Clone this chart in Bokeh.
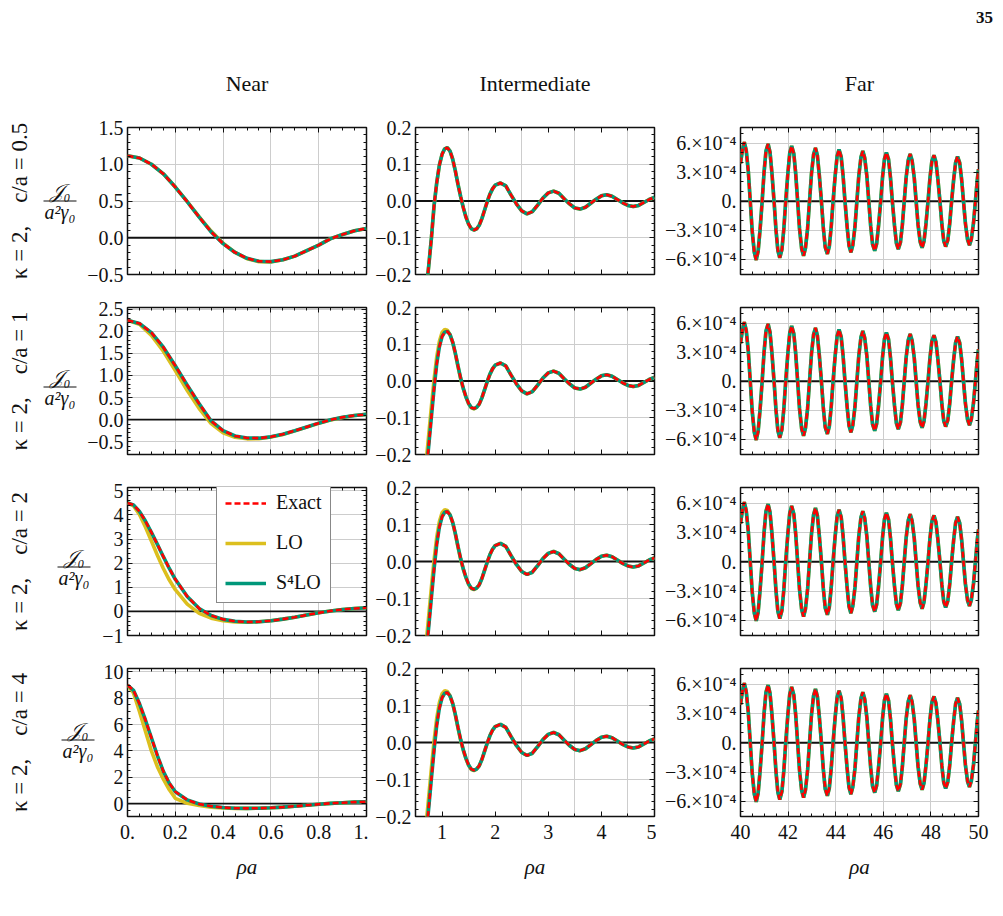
import numpy as np
from bokeh.plotting import figure
from bokeh.models import (Range1d, LinearAxis, FixedTicker, Grid, Span, Legend,
                          LegendItem, CustomJSTickFormatter)
from bokeh.layouts import column, row
from bokeh.embed import file_html
from bokeh.resources import INLINE
from bokeh.core.properties import value

# ---------------------------------------------------------------- data
# Near zone: rho*a in [0, 1]
near_x = [0.0, 0.05, 0.1, 0.15, 0.2, 0.25, 0.3, 0.35, 0.4, 0.45, 0.5,
          0.55, 0.6, 0.65, 0.7, 0.75, 0.8, 0.85, 0.9, 0.95, 1.0]
near_x_fine = [0.0, 0.025, 0.05, 0.075, 0.1, 0.125, 0.15, 0.175, 0.2, 0.25, 0.3,
               0.35, 0.4, 0.45, 0.5, 0.55, 0.6, 0.65, 0.7, 0.75, 0.8, 0.85, 0.9, 0.95, 1.0]

near_exact_c05 = [1.115, 1.085, 1.00, 0.87, 0.69, 0.49, 0.28, 0.08, -0.08, -0.20, -0.28,
                  -0.32, -0.325, -0.30, -0.25, -0.175, -0.10, -0.012, 0.045, 0.095, 0.126]
near_lo_c05 = [1.115, 1.085, 1.00, 0.87, 0.69, 0.49, 0.285, 0.09, -0.075, -0.20, -0.285,
               -0.325, -0.33, -0.30, -0.25, -0.175, -0.10, -0.012, 0.045, 0.095, 0.126]

near_exact_c1 = [2.25, 2.18, 1.97, 1.64, 1.22, 0.78, 0.36, -0.03, -0.25, -0.37, -0.415,
                 -0.42, -0.39, -0.33, -0.25, -0.165, -0.08, -0.005, 0.055, 0.095, 0.118]
near_lo_c1 = [2.25, 2.16, 1.91, 1.55, 1.11, 0.66, 0.25, -0.09, -0.30, -0.40, -0.435,
              -0.43, -0.395, -0.335, -0.255, -0.17, -0.085, -0.01, 0.05, 0.093, 0.118]

near_exact_c2 = [4.5, 4.42, 4.15, 3.75, 3.28, 2.78, 2.27, 1.78, 1.33, 0.62, 0.12,
                 -0.17, -0.33, -0.41, -0.44, -0.43, -0.39, -0.32, -0.24, -0.15, -0.06,
                 0.02, 0.08, 0.12, 0.15]
near_lo_c2 = [4.5, 4.38, 4.02, 3.5, 2.92, 2.33, 1.78, 1.3, 0.9, 0.3, -0.08,
              -0.28, -0.39, -0.44, -0.45, -0.43, -0.39, -0.32, -0.24, -0.15, -0.06,
              0.02, 0.08, 0.12, 0.15]

near_exact_c4 = [9.0, 8.6, 7.6, 6.35, 5.0, 3.65, 2.45, 1.55, 0.9, 0.28, -0.03,
                 -0.2, -0.3, -0.35, -0.36, -0.35, -0.32, -0.27, -0.2, -0.13, -0.05,
                 0.02, 0.07, 0.11, 0.14]
near_lo_c4 = [9.0, 8.4, 7.0, 5.5, 4.0, 2.8, 1.85, 1.05, 0.4, 0.02, -0.15,
              -0.27, -0.33, -0.36, -0.36, -0.35, -0.32, -0.27, -0.2, -0.13, -0.05,
              0.02, 0.07, 0.11, 0.14]

# Intermediate zone: rho*a in [0.5, 5]
inter_x = [0.70, 0.75, 0.80, 0.85, 0.90, 0.95, 1.00, 1.05, 1.10, 1.15, 1.20, 1.25,
           1.30, 1.35, 1.40, 1.45, 1.50, 1.55, 1.60, 1.65, 1.70, 1.75, 1.80, 1.85,
           1.90, 1.95, 2.00,
           2.1, 2.2, 2.3, 2.4, 2.5, 2.6, 2.7, 2.8, 2.9, 3.0, 3.1, 3.2, 3.3, 3.4,
           3.5, 3.6, 3.7, 3.8, 3.9, 4.0, 4.1, 4.2, 4.3, 4.4, 4.5, 4.6, 4.7, 4.8,
           4.9, 5.0]
inter_tail = [0.049, 0.041, 0.016, -0.008, -0.027, -0.035, -0.029, -0.011, 0.008,
              0.022, 0.027, 0.021, 0.006, -0.008, -0.019, -0.022, -0.017, -0.006,
              0.005, 0.014, 0.017, 0.013, 0.004, -0.005, -0.012, -0.015, -0.012,
              -0.004, 0.004, 0.010]
inter_exact_c05 = [-0.245, -0.175, -0.100, -0.012, 0.050, 0.098, 0.127, 0.142, 0.145,
                   0.136, 0.114, 0.082, 0.045, 0.012, -0.018, -0.044, -0.063, -0.075,
                   -0.079, -0.076, -0.066, -0.048, -0.025, -0.002, 0.018, 0.033,
                   0.043] + inter_tail
inter_exact = [-0.25, -0.175, -0.097, -0.020, 0.047, 0.093, 0.121, 0.133, 0.135,
               0.126, 0.106, 0.076, 0.041, 0.008, -0.020, -0.043, -0.061, -0.072,
               -0.075, -0.072, -0.063, -0.046, -0.024, -0.002, 0.018, 0.033,
               0.043] + inter_tail
inter_lo = [-0.22, -0.145, -0.068, 0.005, 0.066, 0.108, 0.132, 0.140, 0.138,
            0.126, 0.105, 0.074, 0.039, 0.006, -0.021, -0.044, -0.062, -0.073,
            -0.076, -0.072, -0.063, -0.046, -0.024, -0.002, 0.018, 0.033,
            0.043] + inter_tail

# Far zone: rho*a in [40, 50], values in units of 1e-4
far_x = [40.0, 40.08,
         40.16, 40.24, 40.33, 40.41, 40.49, 40.58,
         40.66, 40.74, 40.82, 40.91, 40.99, 41.07,
         41.16, 41.24, 41.32, 41.41, 41.49, 41.57,
         41.65, 41.74, 41.82, 41.90, 41.99, 42.07,
         42.15, 42.24, 42.32, 42.40, 42.48, 42.57,
         42.65, 42.73, 42.82, 42.90, 42.98, 43.07,
         43.15, 43.23, 43.31, 43.40, 43.48, 43.56,
         43.65, 43.73, 43.81, 43.89, 43.98, 44.06,
         44.14, 44.23, 44.31, 44.39, 44.48, 44.56,
         44.64, 44.72, 44.81, 44.89, 44.97, 45.06,
         45.14, 45.22, 45.31, 45.39, 45.47, 45.55,
         45.64, 45.72, 45.80, 45.89, 45.97, 46.05,
         46.13, 46.22, 46.30, 46.38, 46.47, 46.55,
         46.63, 46.72, 46.80, 46.88, 46.96, 47.05,
         47.13, 47.21, 47.30, 47.38, 47.46, 47.55,
         47.63, 47.71, 47.79, 47.88, 47.96, 48.04,
         48.13, 48.21, 48.29, 48.38, 48.46, 48.54,
         48.62, 48.71, 48.79, 48.87, 48.96, 49.04,
         49.12, 49.21, 49.29, 49.37, 49.45, 49.54,
         49.62, 49.70, 49.79, 49.87, 49.95, 50.0]
far_e4 = [3.9, 5.28,
          6.10, 5.26, 3.04, 0.0, -3.04, -5.26,
          -6.05, -5.17, -2.99, 0.0, 2.99, 5.17,
          5.90, 5.07, 2.93, 0.0, -2.93, -5.07,
          -5.82, -4.99, -2.88, 0.0, 2.88, 4.99,
          5.70, 4.90, 2.83, 0.0, -2.83, -4.90,
          -5.62, -4.82, -2.78, 0.0, 2.78, 4.82,
          5.50, 4.73, 2.73, 0.0, -2.73, -4.73,
          -5.43, -4.66, -2.69, 0.0, 2.69, 4.66,
          5.32, 4.58, 2.64, 0.0, -2.64, -4.58,
          -5.26, -4.52, -2.61, 0.0, 2.61, 4.52,
          5.17, 4.45, 2.57, 0.0, -2.57, -4.45,
          -5.10, -4.38, -2.53, 0.0, 2.53, 4.38,
          5.02, 4.32, 2.49, 0.0, -2.49, -4.32,
          -4.95, -4.25, -2.46, 0.0, 2.46, 4.25,
          4.87, 4.19, 2.42, 0.0, -2.42, -4.19,
          -4.80, -4.13, -2.39, 0.0, 2.39, 4.13,
          4.74, 4.08, 2.35, 0.0, -2.35, -4.08,
          -4.67, -4.02, -2.32, 0.0, 2.32, 4.02,
          4.60, 3.95, 2.28, 0.0, -2.28, -3.95,
          -4.52, -3.90, -2.25, 0.0, 2.25, 3.30]
far_y = [v * 1e-4 for v in far_e4]

c_over_a = ["0.5", "1", "2", "4"]
column_titles = ["Near", "Intermediate", "Far"]
legend_labels = ["Exact", "LO", "S\u2074LO"]

# tick labels
near_xlabels = {0.0: "0.", 0.2: "0.2", 0.4: "0.4", 0.6: "0.6", 0.8: "0.8", 1.0: "1."}
inter_xlabels = {1: "1", 2: "2", 3: "3", 4: "4", 5: "5"}
far_xlabels = {40: "40", 42: "42", 44: "44", 46: "46", 48: "48", 50: "50"}
near_ylabels = [
    {-0.5: "\u22120.5", 0.0: "0.0", 0.5: "0.5", 1.0: "1.0", 1.5: "1.5"},
    {-0.5: "\u22120.5", 0.0: "0.0", 0.5: "0.5", 1.0: "1.0", 1.5: "1.5", 2.0: "2.0", 2.5: "2.5"},
    {-1: "\u22121", 0: "0", 1: "1", 2: "2", 3: "3", 4: "4", 5: "5"},
    {0: "0", 2: "2", 4: "4", 6: "6", 8: "8", 10: "10"},
]
inter_ylabels = {-0.2: "\u22120.2", -0.1: "\u22120.1", 0.0: "0.0", 0.1: "0.1", 0.2: "0.2"}
far_ylabels = {-6e-4: "\u22126.\u00d710\u207b\u2074", -3e-4: "\u22123.\u00d710\u207b\u2074",
               0.0: "0.", 3e-4: "3.\u00d710\u207b\u2074", 6e-4: "6.\u00d710\u207b\u2074"}

# ---------------------------------------------------------------- style
SERIF = "Liberation Serif"
INK = "#111111"
GRID = "#cdcdcd"
RED = "#ff0000"
GOLD = "#dcbf1e"
TEAL = "#00977a"


def steps(a, b, d):
    n = int(round((b - a) / d))
    return [round(a + i * d, 10) for i in range(n + 1)]


def style_axis(ax, labels, standoff):
    ax.axis_line_color = None
    ax.major_tick_in = 5
    ax.major_tick_out = 0
    ax.minor_tick_in = 3
    ax.minor_tick_out = 0
    ax.major_tick_line_color = INK
    ax.minor_tick_line_color = INK
    ax.major_tick_line_width = 1
    ax.minor_tick_line_width = 1
    if labels is None:
        ax.formatter = CustomJSTickFormatter(code="return ''")
        ax.major_label_text_font_size = "0px"
        ax.major_label_standoff = 0
    else:
        ax.major_label_overrides = labels
        ax.major_label_text_font = SERIF
        ax.major_label_text_font_size = "20px"
        ax.major_label_text_color = INK
        ax.major_label_standoff = standoff


def panel(spec, fw, fh, ml, mr, mt, mb, show_x):
    p = figure(frame_width=fw, frame_height=fh,
               x_range=Range1d(*spec["xr"]), y_range=Range1d(*spec["yr"]),
               min_border_left=ml, min_border_right=mr,
               min_border_top=mt, min_border_bottom=mb,
               x_axis_type=None, y_axis_type=None,
               toolbar_location=None, output_backend="svg")
    p.background_fill_color = "white"
    p.border_fill_color = "white"
    p.outline_line_color = INK
    p.outline_line_width = 1.5
    p.add_layout(Grid(dimension=0, ticker=FixedTicker(ticks=spec["xgrid"]),
                      grid_line_color=GRID, grid_line_width=1))
    p.add_layout(Grid(dimension=1, ticker=FixedTicker(ticks=spec["ygrid"]),
                      grid_line_color=GRID, grid_line_width=1))
    p.add_layout(Span(location=0, dimension="width", line_color=INK,
                      line_width=1.8, level="underlay"))
    axes = (("below", spec["xmaj"], spec["xmin"], spec["xlab"] if show_x else None, 8),
            ("above", spec["xmaj"], spec["xmin"], None, 0),
            ("left", spec["ymaj"], spec["ymin"], spec["ylab"], 4),
            ("right", spec["ymaj"], spec["ymin"], None, 0))
    bottom = None
    for place, maj, mnr, labels, so in axes:
        ax = LinearAxis(ticker=FixedTicker(ticks=maj, minor_ticks=mnr))
        style_axis(ax, labels, so)
        p.add_layout(ax, place)
        if place == "below":
            bottom = ax
    if show_x:
        bottom.axis_label = "\u03c1a"
        bottom.axis_label_text_font = SERIF
        bottom.axis_label_text_font_style = "italic"
        bottom.axis_label_text_font_size = "21px"
        bottom.axis_label_text_color = INK
        bottom.axis_label_standoff = 13
    x, lo, s4, ex = spec["series"]
    r_lo = p.line(x, lo, line_color=GOLD, line_width=3.6)
    r_s4 = p.line(x, s4, line_color=TEAL, line_width=3.6)
    r_ex = p.line(x, ex, line_color=RED, line_width=2.6, line_dash="6 3")
    return p, (r_ex, r_lo, r_s4)


def text_canvas(width, height, x0, y0):
    """A bare figure whose data space is the page's pixel grid."""
    f = figure(width=width, height=height, x_range=Range1d(x0, x0 + width),
               y_range=Range1d(y0 + height, y0), min_border=0,
               x_axis_type=None, y_axis_type=None,
               toolbar_location=None, output_backend="svg")
    f.frame_align = False
    f.outline_line_color = None
    f.background_fill_color = "white"
    f.border_fill_color = "white"
    return f


def row_label(width, top, height, ca, frame_mid, fx, num_y, bar_y, den_y):
    f = text_canvas(width, height, 0, top)
    f.text(x=[19], y=[frame_mid], text=["\u03ba = 2,\u2003c/a = " + ca],
           angle=np.pi / 2, text_align="center", text_baseline="middle",
           text_font=value(SERIF), text_font_size="23px", text_color=INK)
    f.text(x=[fx], y=[num_y], text=["\U0001d4a5\u2080"], text_align="center",
           text_baseline="middle", text_font=value(SERIF), text_font_size="20px",
           text_font_style="italic", text_color=INK)
    f.segment(x0=[fx - 16.5], y0=[bar_y], x1=[fx + 16.5], y1=[bar_y],
              line_color=INK, line_width=1)
    f.text(x=[fx], y=[den_y], text=["a\u00b2\u03b3\u2080"], text_align="center",
           text_baseline="middle", text_font=value(SERIF), text_font_size="20px",
           text_font_style="italic", text_color=INK)
    return f


# ---------------------------------------------------------------- panels
near_series = [
    (near_x, near_lo_c05, near_exact_c05, near_exact_c05),
    (near_x, near_lo_c1, near_exact_c1, near_exact_c1),
    (near_x_fine, near_lo_c2, near_exact_c2, near_exact_c2),
    (near_x_fine, near_lo_c4, near_exact_c4, near_exact_c4),
]
inter_series = [
    (inter_x, inter_exact_c05, inter_exact_c05, inter_exact_c05),
    (inter_x, inter_lo, inter_exact, inter_exact),
    (inter_x, inter_lo, inter_exact, inter_exact),
    (inter_x, inter_lo, inter_exact, inter_exact),
]
far_series = (far_x, far_y, far_y, far_y)

near_yr = [(-0.5, 1.5), (-0.79, 2.54), (-1.0, 5.14), (-0.98, 10.26)]
near_ymaj = [[-0.5, 0.0, 0.5, 1.0, 1.5],
             [-0.5, 0.0, 0.5, 1.0, 1.5, 2.0, 2.5],
             [-1, 0, 1, 2, 3, 4, 5],
             [0, 2, 4, 6, 8, 10]]
near_ymin = [steps(-0.5, 1.5, 0.1), steps(-0.7, 2.5, 0.1),
             steps(-1, 5, 0.2), steps(-0.5, 10, 0.5)]

# per row: top border, frame height, bottom border, label width, page top
rows_layout = [
    dict(top=27, fh=147, bottom=16, lw=82, y0=100),
    dict(top=17, fh=147, bottom=16, lw=82, y0=290),
    dict(top=17, fh=148, bottom=16, lw=95, y0=470),
    dict(top=17, fh=148, bottom=100, lw=96, y0=651),
]
frac_pos = [(59.5, 190, 200.5, 211.5),
            (59.5, 376, 386.5, 397.5),
            (73.5, 556, 566.5, 577.5),
            (77.5, 729, 739.5, 750.5)]

header = text_canvas(1003, 100, 0, 0)
header.text(x=[246.5, 534.5, 859], y=[83, 83, 83], text=column_titles,
            text_align="center", text_baseline="middle", text_font=value(SERIF),
            text_font_size="22px", text_color=INK)
header.text(x=[984], y=[17], text=["35"], text_align="center", text_baseline="middle",
            text_font=value(SERIF), text_font_size="17px", text_font_style="bold",
            text_color=INK)

layout_rows = [header]
for i in range(4):
    L = rows_layout[i]
    last = i == 3
    h = L["top"] + L["fh"] + L["bottom"]
    fx, ny, by, dy = frac_pos[i]
    lab = row_label(L["lw"], L["y0"], h, c_over_a[i], L["y0"] + L["top"] + L["fh"] / 2,
                    fx, ny, by, dy)

    near_spec = dict(xr=(0, 1), xmaj=[0.0, 0.2, 0.4, 0.6, 0.8, 1.0], xmin=steps(0, 1, 0.05),
                     xgrid=[0.2, 0.4, 0.6, 0.8], xlab=near_xlabels,
                     yr=near_yr[i], ymaj=near_ymaj[i], ymin=near_ymin[i],
                     ygrid=near_ymaj[i], ylab=near_ylabels[i], series=near_series[i])
    inter_spec = dict(xr=(0.5, 5), xmaj=[1, 2, 3, 4, 5], xmin=steps(0.5, 5, 0.5),
                      xgrid=[1.5, 2.5, 3.5, 4.5], xlab=inter_xlabels,
                      yr=(-0.2, 0.2), ymaj=[-0.2, -0.1, 0.0, 0.1, 0.2],
                      ymin=steps(-0.2, 0.2, 0.02), ygrid=[-0.1, 0.1],
                      ylab=inter_ylabels, series=inter_series[i])
    far_spec = dict(xr=(40, 50), xmaj=[40, 42, 44, 46, 48, 50], xmin=steps(40, 50, 0.5),
                    xgrid=[42, 44, 46, 48], xlab=far_xlabels,
                    yr=(-7.55e-4, 7.6e-4), ymaj=[-6e-4, -3e-4, 0.0, 3e-4, 6e-4],
                    ymin=steps(-7e-4, 7e-4, 1e-4), ygrid=[-6e-4, -3e-4, 3e-4, 6e-4],
                    ylab=far_ylabels, series=far_series)

    p1, rs = panel(near_spec, 239, L["fh"], 127 - L["lw"], 2, L["top"], L["bottom"], last)
    p2, _ = panel(inter_spec, 239, L["fh"], 47, 2, L["top"], L["bottom"], last)
    p3, _ = panel(far_spec, 238, L["fh"], 84, 25, L["top"], L["bottom"], last)

    if i == 2:
        legend = Legend(items=[LegendItem(label=legend_labels[k], renderers=[rs[k]])
                               for k in range(3)],
                        location=(89, 32))
        legend.border_line_color = INK
        legend.border_line_width = 1
        legend.background_fill_color = "white"
        legend.background_fill_alpha = 1.0
        legend.label_text_font = SERIF
        legend.label_text_font_size = "20px"
        legend.label_text_color = INK
        legend.glyph_width = 41
        legend.glyph_height = 20
        legend.label_height = 20
        legend.spacing = 17
        legend.padding = 8
        legend.margin = 0
        legend.label_standoff = 10
        p1.add_layout(legend)

    layout_rows.append(row(lab, p1, p2, p3, spacing=0))

page = column(*layout_rows, spacing=0)
open("out.html", "w").write(file_html(page, INLINE))
